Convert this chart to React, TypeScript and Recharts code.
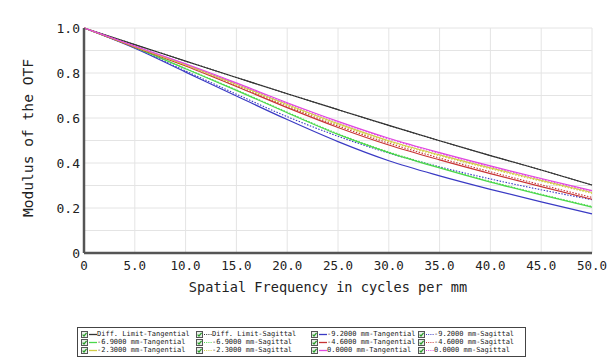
import { LineChart, Line, XAxis, YAxis, CartesianGrid } from 'recharts';

// spatial frequency samples, cycles/mm
const freq = [0, 5, 10, 15, 20, 25, 30, 35, 40, 45, 50];

// MTF values
const diffT = [1, 0.926, 0.853, 0.78, 0.708, 0.637, 0.567, 0.499, 0.433, 0.369, 0.302];
const diffS = [1, 0.926, 0.853, 0.78, 0.708, 0.637, 0.567, 0.499, 0.433, 0.369, 0.302];
const m92T = [1, 0.91, 0.804, 0.698, 0.593, 0.495, 0.41, 0.343, 0.283, 0.227, 0.174];
const m92S = [1, 0.912, 0.809, 0.706, 0.606, 0.519, 0.444, 0.383, 0.329, 0.281, 0.237];
const m69T = [1, 0.914, 0.819, 0.723, 0.623, 0.527, 0.446, 0.378, 0.315, 0.258, 0.204];
const m69S = [1, 0.914, 0.82, 0.725, 0.626, 0.53, 0.449, 0.381, 0.318, 0.261, 0.207];
const m46T = [1, 0.915, 0.831, 0.74, 0.646, 0.558, 0.48, 0.414, 0.353, 0.295, 0.239];
const m46S = [1, 0.917, 0.834, 0.744, 0.652, 0.565, 0.488, 0.422, 0.361, 0.303, 0.247];
const m23T = [1, 0.918, 0.837, 0.75, 0.66, 0.575, 0.499, 0.436, 0.378, 0.323, 0.269];
const m23S = [1, 0.917, 0.834, 0.746, 0.656, 0.571, 0.495, 0.432, 0.374, 0.319, 0.265];
const m00T = [1, 0.92, 0.841, 0.756, 0.668, 0.585, 0.51, 0.446, 0.387, 0.331, 0.277];
const m00S = [1, 0.919, 0.839, 0.753, 0.665, 0.582, 0.507, 0.443, 0.384, 0.328, 0.274];

const xTicks = [0, 5, 10, 15, 20, 25, 30, 35, 40, 45, 50];
const yTicks = [0, 0.1, 0.2, 0.3, 0.4, 0.5, 0.6, 0.7, 0.8, 0.9, 1.0];

const series = [
  { key: 'diffT', name: 'Diff. Limit-Tangential', values: diffT, color: '#333333', dotted: false },
  { key: 'diffS', name: 'Diff. Limit-Sagittal', values: diffS, color: '#333333', dotted: true },
  { key: 'm92T', name: '-9.2000 mm-Tangential', values: m92T, color: '#3a3ac4', dotted: false },
  { key: 'm92S', name: '-9.2000 mm-Sagittal', values: m92S, color: '#3a3ac4', dotted: true },
  { key: 'm69T', name: '-6.9000 mm-Tangential', values: m69T, color: '#4cd84c', dotted: false },
  { key: 'm69S', name: '-6.9000 mm-Sagittal', values: m69S, color: '#4cd84c', dotted: true },
  { key: 'm46T', name: '-4.6000 mm-Tangential', values: m46T, color: '#c83434', dotted: false },
  { key: 'm46S', name: '-4.6000 mm-Sagittal', values: m46S, color: '#c83434', dotted: true },
  { key: 'm23T', name: '-2.3000 mm-Tangential', values: m23T, color: '#d2cc48', dotted: false },
  { key: 'm23S', name: '-2.3000 mm-Sagittal', values: m23S, color: '#d2cc48', dotted: true },
  { key: 'm00T', name: '0.0000 mm-Tangential', values: m00T, color: '#e048e0', dotted: false },
  { key: 'm00S', name: '0.0000 mm-Sagittal', values: m00S, color: '#e048e0', dotted: true },
];

const data = freq.map((f, i) => {
  const row: Record<string, number> = { f };
  series.forEach(s => { row[s.key] = s.values[i]; });
  return row;
});

const mono = '"DejaVu Sans Mono", "Liberation Mono", monospace';

function CheckBox() {
  return (
    <svg width={7} height={7} style={{ display: 'block' }}>
      <rect x={0.5} y={0.5} width={6} height={6} fill="#e8efe8" stroke="#555" strokeWidth={1} />
      <path d="M1.6 3.6 L3 5 L5.6 1.8" fill="none" stroke="#2a9a2a" strokeWidth={1.2} />
    </svg>
  );
}

function LegendBox() {
  return (
    <div
      style={{
        position: 'absolute',
        left: 77,
        top: 327,
        border: '1px solid #444',
        padding: '2px 3px',
        display: 'grid',
        gridTemplateColumns: '115px 115px 107px 104px',
        rowGap: 0,
        fontFamily: mono,
        fontSize: 7,
        color: '#222',
        background: '#fff',
      }}
    >
      {series.map(s => (
        <div key={s.key} style={{ display: 'flex', alignItems: 'center', height: 8, whiteSpace: 'nowrap' }}>
          <CheckBox />
          <svg width={9} height={7} style={{ display: 'block' }}>
            <line
              x1={1} y1={3.5} x2={9} y2={3.5}
              stroke={s.color}
              strokeWidth={s.dotted ? 1 : 1.3}
              strokeDasharray={s.dotted ? '1 1.2' : undefined}
            />
          </svg>
          <span>{s.name}</span>
        </div>
      ))}
    </div>
  );
}

export default function App() {
  return (
    <div style={{ position: 'absolute', left: 0, top: 0, width: 613, height: 362, background: '#fff' }}>
      <LineChart width={613} height={362} data={data} margin={{ top: 28, right: 21, left: 0, bottom: 79 }}>
        <CartesianGrid stroke="#e4e4e4" strokeWidth={1} />
        <XAxis
          dataKey="f"
          type="number"
          domain={[0, 50]}
          ticks={xTicks}
          height={30}
          tickFormatter={(v: number) => (v === 0 ? '0' : v.toFixed(1))}
          tick={{ fill: '#222', fontSize: 12.5, fontFamily: mono }}
          tickLine={false}
          axisLine={{ stroke: '#555', strokeWidth: 2.5 }}
          label={() => (
            <text x={328} y={292} textAnchor="middle" fill="#222" fontSize={13.6} fontFamily={mono}>
              Spatial Frequency in cycles per mm
            </text>
          )}
        />
        <YAxis
          type="number"
          domain={[0, 1]}
          ticks={yTicks}
          width={84}
          tickSize={2}
          tickMargin={2}
          tickFormatter={(v: number) => {
            const tenth = Math.round(v * 10);
            if (tenth % 2 !== 0) return '';
            return tenth === 0 ? '0' : v.toFixed(1);
          }}
          tick={{ fill: '#222', fontSize: 13, fontFamily: mono }}
          tickLine={false}
          axisLine={{ stroke: '#555', strokeWidth: 2.5 }}
          label={() => (
            <text
              x={33}
              y={138}
              transform="rotate(-90 33 138)"
              textAnchor="middle"
              fill="#222"
              fontSize={14.6}
              fontFamily={mono}
            >
              Modulus of the OTF
            </text>
          )}
        />
        {series.map(s => (
          <Line
            key={s.key}
            dataKey={s.key}
            name={s.name}
            type="monotone"
            stroke={s.color}
            strokeWidth={s.dotted ? 1.1 : 1.2}
            strokeDasharray={s.dotted ? '1.5 1.5' : undefined}
            dot={false}
            activeDot={false}
            isAnimationActive={false}
          />
        ))}
      </LineChart>
      <LegendBox />
    </div>
  );
}
